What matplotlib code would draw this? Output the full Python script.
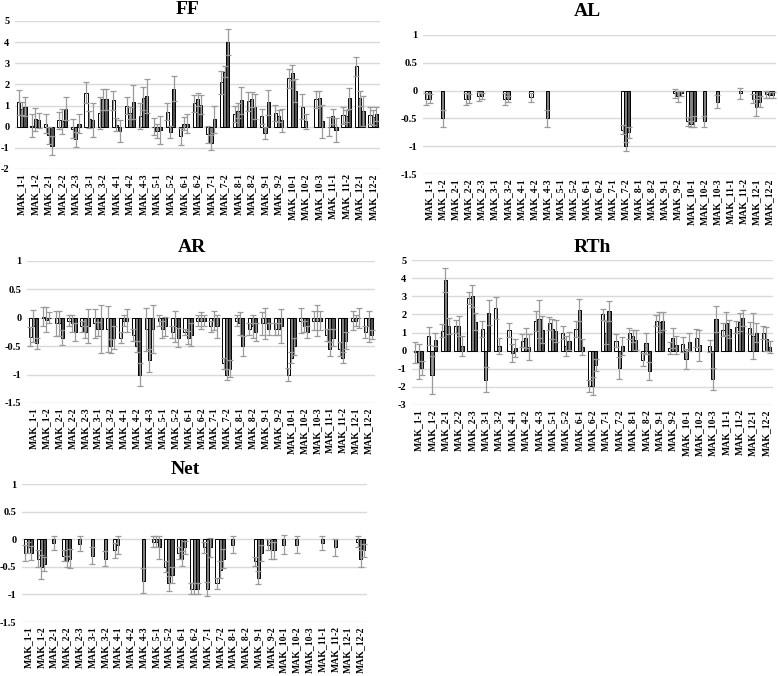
import numpy as np
import matplotlib
matplotlib.use("Agg")
import matplotlib.pyplot as plt

plt.rcParams['font.family'] = ['Liberation Serif', 'DejaVu Serif']
plt.rcParams['font.weight'] = 'bold'

nan = np.nan

sites = ["MAK_1-1", "MAK_1-2", "MAK_2-1", "MAK_2-2", "MAK_2-3", "MAK_3-1", "MAK_3-2",
         "MAK_4-1", "MAK_4-2", "MAK_4-3", "MAK_5-1", "MAK_5-2", "MAK_6-1", "MAK_6-2",
         "MAK_7-1", "MAK_7-2", "MAK_8-1", "MAK_8-2", "MAK_9-1", "MAK_9-2", "MAK_10-1",
         "MAK_10-2", "MAK_10-3", "MAK_11-1", "MAK_11-2", "MAK_12-1", "MAK_12-2"]

# drei Werte pro Standort (Reihe 1, 2, 3), nan = kein Balken
ff_vals = [[1.15, 0.85, 0.95], [0.05, 0.35, 0.3], [0.15, -0.4, -0.9], [0.3, 0.25, 0.85],
           [-0.1, -0.6, 0.15], [1.6, 0.35, 0.3], [0.65, 1.3, 1.3], [1.25, 0.1, -0.2],
           [1.0, 0.65, 1.15], [0.5, 1.35, 1.45], [0.0, -0.2, -0.15], [0.7, -0.25, 1.8],
           [-0.45, 0.15, 0.15], [1.1, 1.3, 1.05], [-0.35, -0.75, 0.35], [2.1, 2.6, 4.0],
           [0.6, 0.75, 1.25], [1.2, 1.3, 0.95], [0.5, -0.3, 1.15], [0.65, 0.5, 0.3],
           [2.3, 2.55, 1.7], [0.95, 0.25, nan], [1.3, 1.35, 0.25], [0.0, 0.5, -0.15],
           [0.55, 0.5, 1.35], [2.85, 1.35, 0.75], [0.55, 0.45, 0.6]]
ff_err = [[0.6, 0.3, 0.45], [0.55, 0.55, 0.35], [0.45, 0.4, 0.45], [0.4, 0.6, 0.55],
          [0.45, 0.35, 0.45], [0.5, 0.4, 0.8], [0.75, 0.5, 0.5], [0.45, 0.3, 0.5],
          [0.4, 0.3, 0.8], [0.6, 0.55, 0.8], [0.4, 0.35, 0.65], [0.4, 0.3, 0.6],
          [0.4, 0.3, 0.45], [0.4, 0.3, 0.45], [0.4, 0.35, 0.65], [0.55, 0.25, 0.6],
          [0.4, 0.35, 0.65], [0.45, 0.35, 0.6], [0.35, 0.3, 0.6], [0.4, 0.3, 0.55],
          [0.45, 0.35, 0.55], [0.6, 0.35, nan], [0.4, 0.35, 0.8], [0.45, 0.35, 0.55],
          [0.4, 0.3, 0.5], [0.45, 0.35, 0.7], [0.4, 0.35, 0.35]]

al_vals = [[-0.15, -0.15, nan], [nan, -0.5, nan], [nan, nan, nan], [-0.15, -0.15, nan],
           [-0.1, -0.1, nan], [nan, nan, nan], [-0.15, -0.15, nan], [nan, nan, nan],
           [-0.12, nan, nan], [nan, -0.5, nan], [nan, nan, nan], [nan, nan, nan],
           [nan, nan, nan], [nan, nan, nan], [nan, nan, nan], [-0.7, -1.0, -0.75],
           [nan, nan, nan], [nan, nan, nan], [nan, nan, nan], [-0.05, -0.1, -0.05],
           [-0.55, -0.6, -0.55], [nan, -0.55, nan], [nan, -0.2, nan], [nan, nan, nan],
           [-0.05, nan, nan], [-0.15, -0.3, -0.2], [-0.07, -0.08, -0.08]]
al_err = [[0.1, 0.08, nan], [nan, 0.15, nan], [nan, nan, nan], [0.1, 0.08, nan],
          [0.08, 0.05, nan], [nan, nan, nan], [0.1, 0.05, nan], [nan, nan, nan],
          [0.08, nan, nan], [nan, 0.15, nan], [nan, nan, nan], [nan, nan, nan],
          [nan, nan, nan], [nan, nan, nan], [nan, nan, nan], [0.08, 0.08, 0.1],
          [nan, nan, nan], [nan, nan, nan], [nan, nan, nan], [0.08, 0.1, 0.05],
          [0.08, 0.05, 0.1], [nan, 0.1, nan], [nan, 0.12, nan], [nan, nan, nan],
          [0.1, nan, nan], [0.08, 0.15, 0.1], [0.07, 0.05, 0.05]]

ar_vals = [[-0.33, -0.15, -0.45], [0.02, -0.03, 0.0], [-0.1, -0.1, -0.35], [-0.05, -0.1, -0.25],
           [-0.15, -0.25, -0.15], [-0.1, -0.2, -0.2], [-0.2, -0.5, -0.35], [-0.35, -0.05, -0.05],
           [-0.3, -0.5, -1.0], [-0.2, -0.75, -0.2], [-0.05, -0.2, -0.15], [-0.25, -0.15, -0.35],
           [-0.25, -0.35, -0.3], [-0.05, -0.05, -0.05], [-0.15, -0.05, -0.15], [-0.8, -1.0, -0.9],
           [-0.05, -0.1, -0.5], [-0.2, -0.15, -0.25], [-0.1, -0.1, -0.2], [-0.2, -0.2, -0.15],
           [-1.0, -0.7, -0.5], [-0.05, -0.15, -0.25], [-0.05, -0.05, -0.05], [-0.3, -0.55, -0.35],
           [-0.55, -0.7, -0.4], [-0.05, -0.05, 0.0], [-0.25, -0.15, -0.3]]
ar_err = [[0.17, 0.28, 0.1], [0.17, 0.22, 0.1], [0.22, 0.22, 0.13], [0.1, 0.15, 0.15],
          [0.1, 0.1, 0.3], [0.25, 0.12, 0.42], [0.4, 0.12, 0.2], [0.1, 0.1, 0.2],
          [0.1, 0.1, 0.2], [0.38, 0.2, 0.42], [0.1, 0.15, 0.17], [0.1, 0.27, 0.17],
          [0.05, 0.12, 0.2], [0.1, 0.15, 0.1], [0.1, 0.17, 0.2], [0.1, 0.1, 0.15],
          [0.1, 0.2, 0.18], [0.1, 0.2, 0.15], [0.2, 0.27, 0.1], [0.1, 0.1, 0.3],
          [0.12, 0.1, 0.15], [0.22, 0.1, 0.1], [0.17, 0.27, 0.17], [0.1, 0.12, 0.15],
          [0.12, 0.1, 0.15], [0.17, 0.1, 0.18], [0.1, 0.27, 0.08]]

rth_vals = [[-0.1, -0.6, -0.95], [0.8, -1.35, 0.6], [1.1, 3.9, 1.35], [1.35, 1.35, 0.25],
            [2.9, 3.0, 1.6], [1.2, -1.6, 2.1], [2.35, 0.25, nan], [1.15, -0.15, 0.15],
            [0.55, 0.7, 0.2], [1.65, 1.75, 1.15], [1.5, 1.2, 1.1], [1.0, 0.25, 0.55],
            [1.2, 2.25, 0.2], [-1.95, -1.95, -0.8], [2.0, 1.0, 2.2], [0.55, -0.95, 0.25],
            [0.95, 0.8, 0.6], [-0.5, 0.4, -1.1], [1.65, 1.6, 1.65], [0.15, 0.7, 0.3],
            [0.35, -0.45, 0.5], [0.7, 0.3, nan], [0.25, -1.55, 1.75], [1.15, 1.5, 1.2],
            [1.3, 1.6, 1.8], [1.25, 0.8, 1.0], [1.0, 0.65, 0.2]]
rth_err = [[0.6, 0.95, 0.4], [0.5, 1.05, 0.35], [0.35, 0.65, 0.45], [0.35, 0.55, 0.55],
           [0.35, 0.6, 0.45], [0.45, 0.7, 0.7], [0.6, 0.45, nan], [0.4, 0.5, 0.5],
           [0.35, 0.55, 0.7], [0.55, 1.05, 0.75], [0.35, 0.55, 0.6], [0.35, 0.55, 0.5],
           [0.45, 0.6, 0.45], [0.35, 0.5, 0.35], [0.3, 0.65, 0.55], [0.35, 0.6, 0.5],
           [0.3, 0.35, 0.55], [0.35, 0.6, 0.5], [0.3, 0.55, 0.5], [0.35, 0.55, 0.5],
           [0.4, 0.55, 0.5], [0.5, 0.85, nan], [0.35, 0.6, 0.7], [0.35, 0.65, 0.5],
           [0.35, 0.5, 0.45], [0.35, 1.25, 0.55], [0.35, 0.65, 0.35]]

net_vals = [[-0.25, -0.15, -0.25], [-0.35, -0.5, -0.45], [nan, -0.07, nan], [-0.3, -0.4, -0.35],
            [nan, -0.08, nan], [nan, -0.3, nan], [nan, -0.35, nan], [-0.2, -0.1, nan],
            [nan, nan, nan], [nan, -0.75, nan], [-0.05, -0.05, -0.15], [-0.5, -0.8, -0.65],
            [-0.25, -0.35, -0.15], [-0.9, -0.9, -0.9], [-0.15, -0.9, -0.15], [-0.8, -0.55, -0.35],
            [nan, -0.1, nan], [nan, nan, nan], [-0.4, -0.7, -0.25], [-0.1, -0.2, -0.2],
            [nan, -0.1, nan], [nan, -0.1, nan], [nan, nan, nan], [nan, -0.07, nan],
            [nan, -0.15, nan], [nan, nan, nan], [-0.05, -0.35, -0.2]]
net_err = [[0.15, 0.1, 0.12], [0.15, 0.22, 0.12], [nan, 0.13, nan], [0.1, 0.1, 0.18],
           [nan, 0.14, nan], [nan, 0.15, nan], [nan, 0.13, nan], [0.14, 0.16, nan],
           [nan, nan, nan], [nan, 0.22, nan], [0.1, 0.1, 0.2], [0.1, 0.13, 0.15],
           [0.1, 0.13, 0.12], [0.1, 0.1, 0.1], [0.1, 0.12, 0.18], [0.1, 0.15, 0.18],
           [nan, 0.15, nan], [nan, nan, nan], [0.08, 0.12, 0.15], [0.1, 0.15, 0.15],
           [nan, 0.17, nan], [nan, 0.15, nan], [nan, nan, nan], [nan, 0.13, nan],
           [nan, 0.15, nan], [nan, nan, nan], [0.1, 0.15, 0.12]]

W, H = 778, 676
fig = plt.figure(figsize=(W / 100, H / 100), dpi=100)


def px_axes(left, top, right, bottom):
    return fig.add_axes([left / W, 1 - bottom / H, (right - left) / W, (bottom - top) / H])


farben = ['#ffffff', '#808080', '#505050']


def panel(ax, vals, err, ylim, yticks, ylabels):
    vals = np.array(vals, dtype=float)
    err = np.array(err, dtype=float)
    x = np.arange(len(sites))
    bw = 0.24
    for i in range(3):
        pos = x + (i - 1) * bw
        ax.bar(pos, vals[:, i], bw, color=farben[i], edgecolor='black', linewidth=0.7, zorder=3)
        ax.errorbar(pos, vals[:, i], yerr=err[:, i], fmt='none', ecolor='#9a9a9a',
                    elinewidth=0.9, capsize=2, capthick=0.9, zorder=4)
    ax.set_xlim(-0.5, len(sites) - 0.5)
    ax.set_ylim(*ylim)
    ax.set_yticks(yticks)
    ax.set_yticklabels(ylabels, fontsize=7.5, fontweight='bold')
    ax.set_xticks(x)
    ax.set_xticklabels(sites, rotation=90, fontsize=7, fontweight='bold')
    ax.tick_params(length=0, pad=4)
    ax.tick_params(axis='x', pad=3)
    ax.grid(axis='y', color='#d9d9d9', linewidth=1, zorder=0)
    for s in ax.spines.values():
        s.set_visible(False)


ax_ff = px_axes(15, 21, 380, 169)
panel(ax_ff, ff_vals, ff_err, (-2, 5), range(-2, 6), [str(v) for v in range(-2, 6)])
fig.text(188 / W, 1 - 10 / H, "FF", ha='center', va='center', fontsize=14, fontweight='bold')

ticks_small = [-1.5, -1, -0.5, 0, 0.5, 1]
labels_small = ['-1.5', '-1', '-0.5', '0', '0.5', '1']

ax_al = px_axes(423, 35, 776, 174)
panel(ax_al, al_vals, al_err, (-1.5, 1), ticks_small, labels_small)
fig.text(587 / W, 1 - 12 / H, "AL", ha='center', va='center', fontsize=14, fontweight='bold')

ax_ar = px_axes(27, 261, 375, 403)
panel(ax_ar, ar_vals, ar_err, (-1.5, 1), ticks_small, labels_small)
fig.text(192 / W, 1 - 248 / H, "AR", ha='center', va='center', fontsize=14, fontweight='bold')

ax_rth = px_axes(412, 260, 773, 405)
panel(ax_rth, rth_vals, rth_err, (-3, 5), range(-3, 6), [str(v) for v in range(-3, 6)])
fig.text(592 / W, 1 - 248 / H, "RTh", ha='center', va='center', fontsize=14, fontweight='bold')

ax_net = px_axes(22, 484, 367, 622)
panel(ax_net, net_vals, net_err, (-1.5, 1), ticks_small, labels_small)
fig.text(185 / W, 1 - 470 / H, "Net", ha='center', va='center', fontsize=14, fontweight='bold')

fig.savefig("out.png", dpi=100)
